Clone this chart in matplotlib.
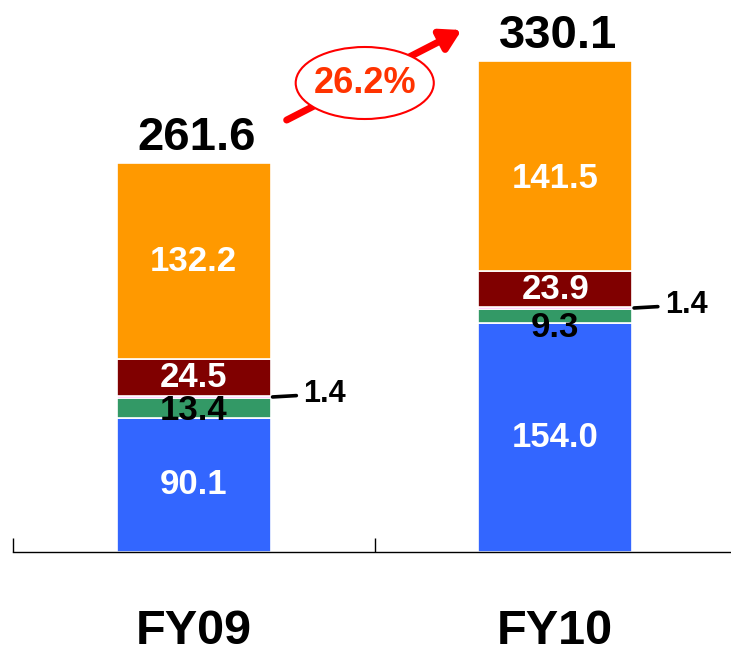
import numpy as np
import matplotlib
matplotlib.use("Agg")
import matplotlib.pyplot as plt
from matplotlib import font_manager
from matplotlib.patches import Ellipse

years = ["FY09", "FY10"]
seg_blue = [90.1, 154.0]
seg_green = [13.4, 9.3]
seg_magenta = [1.4, 1.4]
seg_red = [24.5, 23.9]
seg_orange = [132.2, 141.5]
totals = [261.6, 330.1]
growth = "26.2%"

names = {f.name for f in font_manager.fontManager.ttflist}
base_font = "Liberation Sans" if "Liberation Sans" in names else "DejaVu Sans"
plt.rcParams["font.family"] = base_font

# (values, colour, label colour, label nudge in points per bar)
segments = [
    (seg_blue, "#3366FF", "white", [0, 0]),
    (seg_green, "#339966", "black", [-2, -8]),
    (seg_magenta, "#FF00FF", None, [0, 0]),
    (seg_red, "#800000", "white", [0, 0]),
    (seg_orange, "#FF9900", "white", [0, -9]),
]

fig = plt.figure(figsize=(7.31, 6.6), dpi=100)
ax = fig.add_axes([13 / 731, 108 / 660, 723 / 731, 0.8116])

x = np.arange(len(years))
width = 0.426
bottom = np.zeros(len(years))
for vals, color, txt_color, nudge in segments:
    vals = np.array(vals)
    ax.bar(x, vals, width, bottom=bottom, color=color, edgecolor="white", linewidth=1.2)
    if txt_color is not None:
        for i, v in enumerate(vals):
            ax.annotate(f"{v:.1f}", (x[i], bottom[i] + v / 2), xytext=(0, nudge[i]),
                        textcoords="offset points", ha="center", va="center",
                        color=txt_color, fontsize=25, fontweight="bold")
    else:
        # tiny segment, labelled outside with a leader line
        for i, v in enumerate(vals):
            ymid = bottom[i] + v / 2
            ax.annotate(f"{v:.1f}", xy=(x[i] + width / 2 + 0.005, ymid),
                        xytext=(x[i] + width / 2 + 0.09, ymid + 2),
                        ha="left", va="center", fontsize=22, fontweight="bold",
                        arrowprops=dict(arrowstyle="-", color="black", lw=2.6,
                                        shrinkA=3, shrinkB=0))
    bottom += vals

for i, t in enumerate(totals):
    ax.annotate(f"{t:.1f}", (x[i], t), xytext=(2, 2), textcoords="offset points",
                ha="center", va="bottom", fontsize=34, fontweight="bold")

# growth arrow with ellipse
ax.annotate("", xy=(0.741, 350.8), xytext=(0.257, 290.3),
            arrowprops=dict(arrowstyle="-|>,head_length=1.2,head_width=0.7",
                            color="#FF0000", lw=5, shrinkA=0, shrinkB=0),
            annotation_clip=False)
ax.add_patch(Ellipse((0.473, 315.2), 0.382, 48.4, facecolor="white",
                     edgecolor="#FF0000", lw=1.5, zorder=5, clip_on=False))
ax.text(0.473, 315.2, growth, ha="center", va="center", color="#FF3300",
        fontsize=26, fontweight="bold", zorder=6)

ax.set_xlim(-0.5, 1.5)
ax.set_ylim(0, 360)
for s in ["top", "right", "left"]:
    ax.spines[s].set_visible(False)
ax.spines["bottom"].set_linewidth(1.0)
ax.set_yticks([])
ax.set_xticks([-0.5, 0.5, 1.5])
ax.set_xticklabels([])
ax.tick_params(axis="x", which="major", direction="in", length=10, width=1.0)
ax.set_xticks(x, minor=True)
ax.set_xticklabels(years, minor=True, fontsize=35, fontweight="bold")
ax.tick_params(axis="x", which="minor", length=0, pad=41)

fig.savefig("out.png", dpi=100)
